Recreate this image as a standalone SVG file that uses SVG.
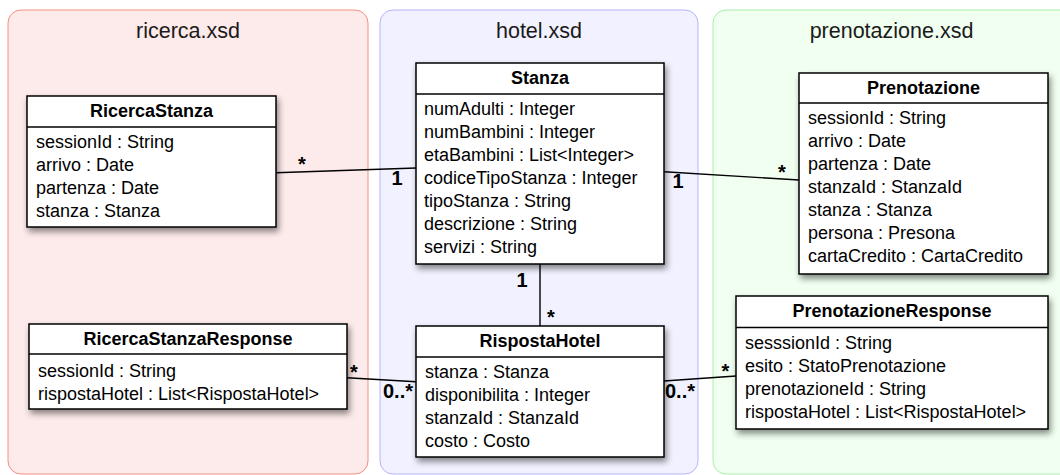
<svg xmlns="http://www.w3.org/2000/svg" width="1060" height="475" viewBox="0 0 1060 475">
<style>
.pkgtitle{font-family:"Liberation Sans",Arial,sans-serif;font-size:21.5px;fill:#1a1a1a;text-anchor:middle}
.box{fill:#fff;stroke:#000;stroke-width:1.5}
.sep{stroke:#000;stroke-width:1.5}
.cname{font-family:"Liberation Sans",Arial,sans-serif;font-size:18px;font-weight:bold;fill:#000;text-anchor:middle}
.attr{font-family:"Liberation Sans",Arial,sans-serif;font-size:18px;fill:#000}
.conn{stroke:#000;stroke-width:1.4;fill:none}
.mult{font-family:"Liberation Sans",Arial,sans-serif;font-size:20px;font-weight:bold;fill:#000}
.star{font-family:"Liberation Sans",Arial,sans-serif;font-size:20px;font-weight:bold;fill:#000;text-anchor:middle}
</style>
<defs>
<filter id="shadow" x="-10%" y="-10%" width="130%" height="140%">
<feDropShadow dx="2" dy="4" stdDeviation="3" flood-color="#000" flood-opacity="0.45"/>
</filter>
</defs>

<g id="pkg-ricerca">
<rect x="8" y="10" width="360" height="464" rx="13" fill="#fdeaea" stroke="#f49080" stroke-width="1"/>
<text class="pkgtitle" x="188" y="38">ricerca.xsd</text>
</g>
<g id="pkg-hotel">
<rect x="380" y="10" width="318" height="464" rx="13" fill="#f1f1ff" stroke="#b4b4fa" stroke-width="1"/>
<text class="pkgtitle" x="539" y="38">hotel.xsd</text>
</g>
<g id="pkg-prenotazione">
<rect x="713" y="10" width="360" height="464" rx="13" fill="#f0fff0" stroke="#aaeeaa" stroke-width="1"/>
<text class="pkgtitle" x="891.5" y="38">prenotazione.xsd</text>
</g>

<g id="connectors">
<line class="conn" x1="276" y1="172.7" x2="416" y2="168"/>
<text class="star" x="302" y="171">*</text>
<text class="mult" x="397" y="185" text-anchor="middle">1</text>

<line class="conn" x1="664" y1="171.7" x2="799" y2="180"/>
<text class="mult" x="678" y="188" text-anchor="middle">1</text>
<text class="star" x="782" y="179">*</text>

<line class="conn" x1="540" y1="264" x2="540" y2="326"/>
<text class="mult" x="522" y="287" text-anchor="middle">1</text>
<text class="star" x="551" y="324">*</text>

<line class="conn" x1="347" y1="377.7" x2="416" y2="381.7"/>
<text class="star" x="354" y="379">*</text>
<text class="mult" x="383" y="398">0..*</text>

<line class="conn" x1="664" y1="381" x2="736" y2="376"/>
<text class="mult" x="665" y="398">0..*</text>
<text class="star" x="725.5" y="378">*</text>
</g>

<g id="RicercaStanza">
<rect class="box" x="27" y="96" width="249" height="131" filter="url(#shadow)"/>
<line class="sep" x1="27" y1="127" x2="276" y2="127"/>
<text class="cname" x="151.5" y="117">RicercaStanza</text>
<text class="attr" x="36" y="148">sessionId : String</text>
<text class="attr" x="36" y="171">arrivo : Date</text>
<text class="attr" x="36" y="194">partenza : Date</text>
<text class="attr" x="36" y="217">stanza : Stanza</text>
</g>

<g id="Stanza">
<rect class="box" x="416" y="63" width="248" height="201" filter="url(#shadow)"/>
<line class="sep" x1="416" y1="94" x2="664" y2="94"/>
<text class="cname" x="540" y="84">Stanza</text>
<text class="attr" x="424" y="115">numAdulti : Integer</text>
<text class="attr" x="424" y="138">numBambini : Integer</text>
<text class="attr" x="424" y="161">etaBambini : List&lt;Integer&gt;</text>
<text class="attr" x="424" y="184">codiceTipoStanza : Integer</text>
<text class="attr" x="424" y="207">tipoStanza : String</text>
<text class="attr" x="424" y="230">descrizione : String</text>
<text class="attr" x="424" y="253">servizi : String</text>
</g>

<g id="Prenotazione">
<rect class="box" x="799" y="73" width="249" height="201" filter="url(#shadow)"/>
<line class="sep" x1="799" y1="103" x2="1048" y2="103"/>
<text class="cname" x="923.5" y="94">Prenotazione</text>
<text class="attr" x="808" y="124">sessionId : String</text>
<text class="attr" x="808" y="147">arrivo : Date</text>
<text class="attr" x="808" y="170">partenza : Date</text>
<text class="attr" x="808" y="193">stanzaId : StanzaId</text>
<text class="attr" x="808" y="216">stanza : Stanza</text>
<text class="attr" x="808" y="239">persona : Presona</text>
<text class="attr" x="808" y="262">cartaCredito : CartaCredito</text>
</g>

<g id="RicercaStanzaResponse">
<rect class="box" x="29" y="324" width="318" height="85" filter="url(#shadow)"/>
<line class="sep" x1="29" y1="354" x2="347" y2="354"/>
<text class="cname" x="188" y="345">RicercaStanzaResponse</text>
<text class="attr" x="38" y="377">sessionId : String</text>
<text class="attr" x="38" y="400">rispostaHotel : List&lt;RispostaHotel&gt;</text>
</g>

<g id="RispostaHotel">
<rect class="box" x="416" y="326" width="248" height="131" filter="url(#shadow)"/>
<line class="sep" x1="416" y1="357" x2="664" y2="357"/>
<text class="cname" x="540" y="347">RispostaHotel</text>
<text class="attr" x="425" y="378">stanza : Stanza</text>
<text class="attr" x="425" y="401">disponibilita : Integer</text>
<text class="attr" x="425" y="424">stanzaId : StanzaId</text>
<text class="attr" x="425" y="447">costo : Costo</text>
</g>

<g id="PrenotazioneResponse">
<rect class="box" x="736" y="296" width="312" height="133" filter="url(#shadow)"/>
<line class="sep" x1="736" y1="327.5" x2="1048" y2="327.5"/>
<text class="cname" x="892" y="317">PrenotazioneResponse</text>
<text class="attr" x="745" y="349">sesssionId : String</text>
<text class="attr" x="745" y="372">esito : StatoPrenotazione</text>
<text class="attr" x="745" y="395">prenotazioneId : String</text>
<text class="attr" x="745" y="418">rispostaHotel : List&lt;RispostaHotel&gt;</text>
</g>
</svg>
